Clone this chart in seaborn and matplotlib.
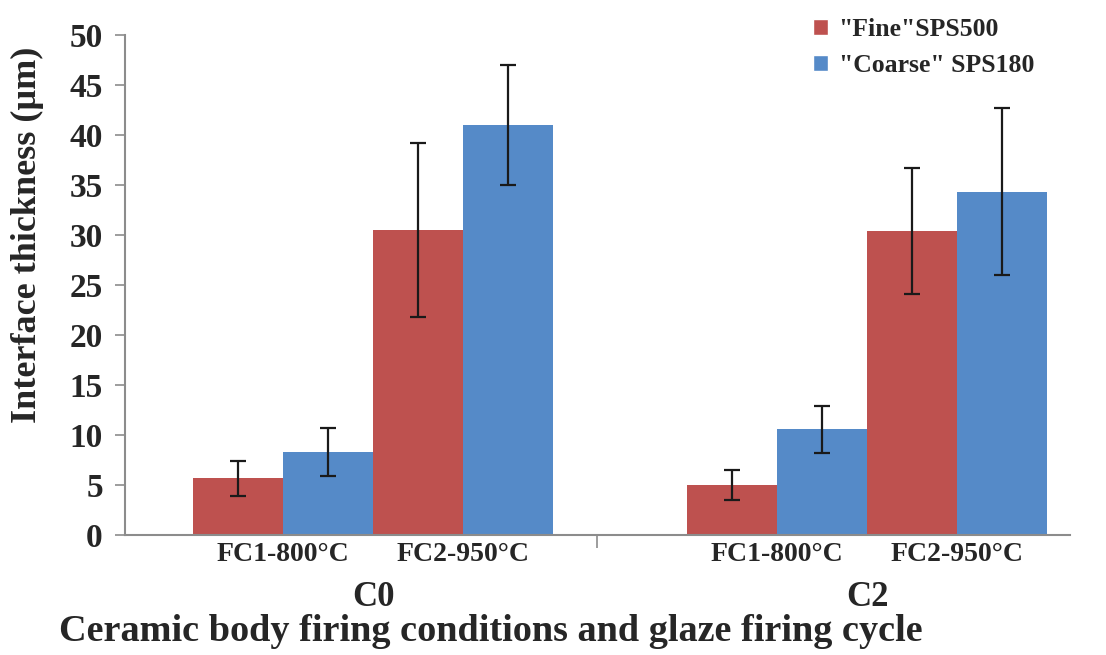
import pandas as pd
import matplotlib.pyplot as plt
import matplotlib.transforms as mtransforms
import seaborn as sns
from matplotlib.patches import Patch

# Data
groups = ['C0', 'C0', 'C2', 'C2']
conditions = ['FC1-800°C', 'FC2-950°C', 'FC1-800°C', 'FC2-950°C']
fine_vals = [5.7, 30.5, 5.0, 30.4]
fine_err = [1.75, 8.7, 1.5, 6.3]
coarse_vals = [8.3, 41.0, 10.6, 34.3]
coarse_err = [2.4, 6.0, 2.35, 8.35]
series_names = ['"Fine"SPS500', '"Coarse" SPS180']
colors = ['#BE514F', '#558AC8']

# Layout: position of each condition along the axis (C2 block shifted right)
group_offset = {'C0': 0.0, 'C2': 2.744}
cond_offset = {'FC1-800°C': 0.0, 'FC2-950°C': 1.0}

rows = []
for g, c, fv, fe, cv, ce in zip(groups, conditions, fine_vals, fine_err, coarse_vals, coarse_err):
    pos = group_offset[g] + cond_offset[c]
    rows.append({'group': g, 'cond': c, 'pos': pos, 'series': series_names[0], 'value': fv, 'err': fe})
    rows.append({'group': g, 'cond': c, 'pos': pos, 'series': series_names[1], 'value': cv, 'err': ce})
df = pd.DataFrame(rows)

sns.set_style("white")
plt.rcParams['font.family'] = ['Liberation Serif', 'DejaVu Serif']
plt.rcParams['font.weight'] = 'bold'

fig = plt.figure(figsize=(11.06, 6.55), dpi=100)
ax = fig.add_axes([0.113, 0.183, 0.854, 0.764])

sns.barplot(data=df, x='pos', y='value', hue='series', hue_order=series_names,
            palette=colors, native_scale=True, width=1.0, errorbar=None,
            saturation=1, linewidth=0, legend=False, ax=ax)

# Error bars on top of the bars drawn by seaborn
for container, name in zip(ax.containers, series_names):
    sub = df[df['series'] == name].sort_values('pos')
    bars = sorted(container, key=lambda b: b.get_x())
    for bar, (_, r) in zip(bars, sub.iterrows()):
        xc = bar.get_x() + bar.get_width() / 2
        ax.errorbar(xc, bar.get_height(), yerr=r['err'], fmt='none',
                    ecolor='#1a1a1a', elinewidth=1.6, capsize=5.5, capthick=1.6)

ax.set_xlim(-0.878, 4.367)
ax.set_ylim(0, 50)
ax.set_yticks(range(0, 51, 5))
ax.tick_params(axis='y', labelsize=24, length=7, width=1.2, color='#8c8c8c', left=True, pad=9)

# condition labels under each pair of bars
ticks = sorted(df['pos'].unique())
ax.set_xticks(ticks)
ax.set_xticklabels(conditions, fontsize=20)
ax.tick_params(axis='x', length=0, pad=5)
ax.set_xticks([group_offset['C2'] - 1.0], minor=True)
ax.tick_params(axis='x', which='minor', length=9, width=1.2, color='#8c8c8c', bottom=True)

# group labels
trans = mtransforms.blended_transform_factory(ax.transData, ax.transAxes)
for g in ['C0', 'C2']:
    ax.text(group_offset[g] + 0.5, -0.125, g, transform=trans, ha='center', va='center',
            fontsize=25, fontweight='bold')

ax.set_xlabel('Ceramic body firing conditions and glaze firing cycle',
              fontsize=27.5, fontweight='bold')
ax.xaxis.set_label_coords(0.387, -0.157)
ax.set_ylabel('Interface thickness (µm)', fontsize=26, fontweight='bold')
ax.yaxis.set_label_coords(-0.086, 0.6)

sns.despine(ax=ax)
for s in ['left', 'bottom']:
    ax.spines[s].set_color('#8c8c8c')
    ax.spines[s].set_linewidth(1.5)

handles = [Patch(facecolor=c, label=n) for c, n in zip(colors, series_names)]
fig.legend(handles=handles, loc='upper left', bbox_to_anchor=(0.714, 1.008),
           frameon=False, fontsize=18.5, handlelength=0.6, handleheight=0.6,
           handletextpad=0.4, labelspacing=0.5)

fig.savefig('out.png', dpi=100)
